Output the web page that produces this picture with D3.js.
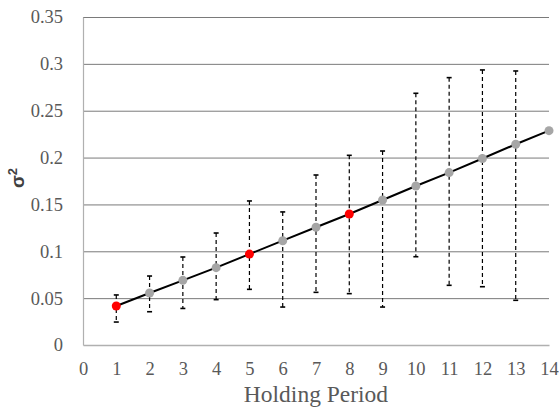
<!DOCTYPE html>
<html>
<head>
<meta charset="utf-8">
<script src="https://cdn.jsdelivr.net/npm/d3@7"></script>
<style>
  html, body { margin: 0; padding: 0; background: #fff; }
  svg { display: block; }
</style>
</head>
<body>
<svg id="chart" width="559" height="411"></svg>
<script>
// Holding period (years) and the variance estimate for each
const periods = [1, 2, 3, 4, 5, 6, 7, 8, 9, 10, 11, 12, 13, 14];
const variance = [0.0416, 0.0555, 0.069, 0.0825, 0.097, 0.1113, 0.1256, 0.1398, 0.1547, 0.1697, 0.184, 0.199, 0.2142, 0.2287];
// Observed range around each estimate (no range for the last period)
const rangeHigh = [0.0534, 0.0736, 0.0939, 0.1195, 0.1537, 0.142, 0.1814, 0.2024, 0.207, 0.2686, 0.2853, 0.2935, 0.2924, null];
const rangeLow  = [0.0245, 0.0355, 0.039, 0.0484, 0.0594, 0.0405, 0.0562, 0.0548, 0.0405, 0.0942, 0.0637, 0.0622, 0.0477, null];
// Periods highlighted in red
const highlighted = [1, 5, 8];
const xTicks = d3.range(0, 15);
const yTicks = [0, 0.05, 0.1, 0.15, 0.2, 0.25, 0.3, 0.35];

const svg = d3.select("#chart");
const x = d3.scaleLinear().domain([0, 14]).range([83, 549]);
const y = d3.scaleLinear().domain([0, 0.35]).range([345, 17]);

const serif = "'Liberation Serif', 'Times New Roman', serif";

// horizontal gridlines
svg.append("g")
  .attr("transform", `translate(${x(0)},0)`)
  .call(d3.axisLeft(y).tickValues(yTicks.filter(v => v > 0)).tickSize(-(x(14) - x(0))).tickFormat(""))
  .call(g => g.select(".domain").remove())
  .call(g => g.selectAll("line").attr("stroke", "#7a7a7a").attr("stroke-width", 1));

// y tick labels
svg.append("g")
  .attr("transform", `translate(${x(0)},0)`)
  .call(d3.axisLeft(y).tickValues(yTicks).tickSize(0).tickPadding(20).tickFormat(d => d3.format("")(+d.toFixed(2))))
  .call(g => g.select(".domain").attr("stroke", "#b0b0b0").attr("stroke-width", 1.2))
  .call(g => g.selectAll("text").attr("font-family", serif).attr("font-size", 18.5).attr("fill", "#595959"));

// x axis
svg.append("g")
  .attr("transform", `translate(0,${y(0)})`)
  .call(d3.axisBottom(x).tickValues(xTicks).tickSize(0).tickPadding(17).tickFormat(d3.format("d")))
  .call(g => g.select(".domain").attr("stroke", "#b0b0b0").attr("stroke-width", 1.5))
  .call(g => g.selectAll("text").attr("font-family", serif).attr("font-size", 18.5).attr("fill", "#595959"));

// axis titles
svg.append("text")
  .attr("x", (x(0) + x(14)) / 2).attr("y", 402)
  .attr("text-anchor", "middle")
  .attr("font-family", serif).attr("font-size", 23.5).attr("fill", "#595959")
  .text("Holding Period");

const yTitle = svg.append("text")
  .attr("transform", `translate(24,178) rotate(-90)`)
  .attr("text-anchor", "middle")
  .attr("font-family", "'Liberation Sans', Arial, sans-serif").attr("font-weight", "bold")
  .attr("font-size", 19).attr("fill", "#404040");
yTitle.append("tspan").text("σ");
yTitle.append("tspan").attr("dy", -7).attr("font-size", 13).text("2");

// error ranges
const ranges = periods.map((p, i) => ({ p, hi: rangeHigh[i], lo: rangeLow[i] })).filter(d => d.hi != null);
const eb = svg.append("g");
eb.selectAll("line.stem").data(ranges).join("line")
  .attr("class", "stem")
  .attr("x1", d => x(d.p)).attr("x2", d => x(d.p))
  .attr("y1", d => y(d.hi)).attr("y2", d => y(d.lo))
  .attr("stroke", "#000").attr("stroke-width", 1.2).attr("stroke-dasharray", "4,3");
["hi", "lo"].forEach(k => {
  eb.selectAll(`line.cap-${k}`).data(ranges).join("line")
    .attr("class", `cap-${k}`)
    .attr("x1", d => x(d.p) - 2.5).attr("x2", d => x(d.p) + 2.5)
    .attr("y1", d => y(d[k])).attr("y2", d => y(d[k]))
    .attr("stroke", "#000").attr("stroke-width", 1.6);
});

// fitted line through the estimates
const pts = periods.map((p, i) => ({ p, v: variance[i] }));
svg.append("path")
  .datum(pts)
  .attr("fill", "none").attr("stroke", "#000").attr("stroke-width", 2)
  .attr("d", d3.line().x(d => x(d.p)).y(d => y(d.v)));

// markers
svg.append("g").selectAll("circle").data(pts).join("circle")
  .attr("cx", d => x(d.p)).attr("cy", d => y(d.v)).attr("r", 4.5)
  .attr("fill", d => highlighted.includes(d.p) ? "#ff0000" : "#a6a6a6");
</script>
</body>
</html>
